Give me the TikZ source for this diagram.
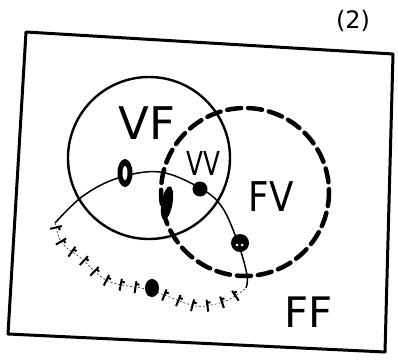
\documentclass[tikz,border=0pt]{standalone}
\usepackage{fontspec}
\setmainfont{DejaVu Sans}
\usetikzlibrary{decorations.markings}
\begin{document}
\begin{tikzpicture}[x=1pt,y=-1pt,
  frame/.style={line width=3pt,line join=round},
  solidset/.style={line width=2.4pt},
  dashset/.style={line width=4.5pt,dash pattern=on 14pt off 7pt,line cap=round},
  thinarc/.style={line width=1.5pt},
  hatchline/.style={line width=0.5pt,dash pattern=on 2pt off 2pt,
    postaction={decorate,decoration={markings,
      mark=between positions 0.02 and 0.97 step 15pt with {\draw[line width=2pt,solid] (0pt,-6pt)--(0pt,6pt) (-1pt,3pt)--(3.5pt,3pt);}}}},
  blob/.style={fill=black},
  lab/.style={inner sep=0pt}
]
\useasboundingbox (0,0) rectangle (398,361);
% frame
\draw[frame] (26,32) -- (393,54) -- (385,352) -- (8,334) -- cycle;
\node[lab,font=\fontsize{24}{24}\selectfont] (num) at (353,21) {(2)};
% circles
\draw[solidset] (149,158) circle[radius=81];
\draw[dashset] (245,192) circle[radius=84];
% thin arc (upper part)
\draw[thinarc] plot[smooth,tension=0.6] coordinates {(55,223) (83,196) (118,178) (160,172) (200,188) (222,207) (238,243) (247,275) (246,288)};
% hatched lower part
\draw[hatchline] plot[smooth,tension=0.6] coordinates {(55,223) (62,243) (82,259) (108,281) (150,290) (188,304) (205,306) (228,300) (246,288)};
% points
\fill[blob] (125,173) ellipse[x radius=7.5,y radius=14];
\fill[white] (125,173) ellipse[x radius=2.5,y radius=7];
\fill[blob] (200,189) circle[radius=7.5];
\fill[blob] (240,243) circle[radius=9];
\fill[white] (237,245) circle[radius=1.5];
\fill[white] (242,245) circle[radius=1.5];
\fill[blob] (152,288) ellipse[x radius=7,y radius=9];
\fill[blob,rotate around={-10:(167,203)}] (167,203) ellipse[x radius=5.5,y radius=17];
% labels
\node[lab,font=\fontsize{45}{45}\selectfont] (vf) at (147,123) {VF};
\node[lab,font=\fontsize{33}{33}\selectfont,xscale=0.75] (vv) at (203,163) {VV};
\node[lab,font=\fontsize{41}{41}\selectfont,xscale=0.87] (fv) at (271,197) {FV};
\node[lab,font=\fontsize{42}{42}\selectfont] (ff) at (309,312) {FF};
\end{tikzpicture}
\end{document}
